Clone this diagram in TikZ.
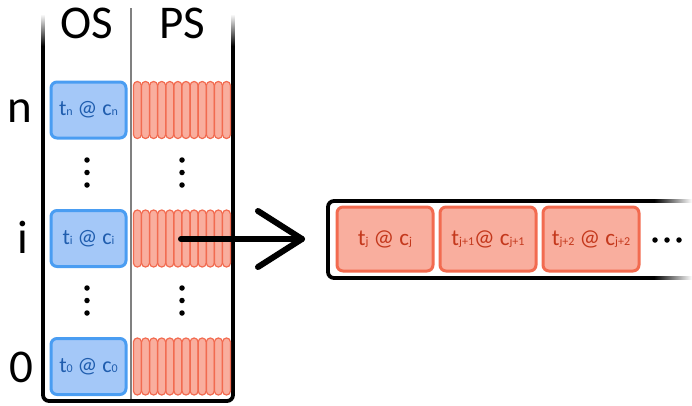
\documentclass[tikz,border=0pt]{standalone}
\usepackage{fontspec}
\setmainfont{Carlito}
\usetikzlibrary{calc}
\definecolor{osfill}{HTML}{A4C8F8}
\definecolor{osedge}{HTML}{4A9DF2}
\definecolor{ostext}{HTML}{1F5DAE}
\definecolor{psfill}{HTML}{F9AE9E}
\definecolor{psedge}{HTML}{F26B50}
\definecolor{pstext}{HTML}{C4381C}
\newcommand\lowidx[1]{{\fontsize{12}{13}\selectfont #1}}
\tikzset{
  frame/.style={line width=3.8pt, black, rounded corners=6pt},
  hdr/.style={font=\fontsize{47}{50}\selectfont, inner sep=0pt, anchor=base},
  osbox/.style={draw=osedge, fill=osfill, line width=3pt, rounded corners=6pt,
    minimum width=75pt, minimum height=56pt, inner sep=0pt, text=ostext,
    font=\fontsize{22}{24}\selectfont},
  psbox/.style={draw=psedge, fill=psfill, line width=3pt, rounded corners=6pt,
    minimum width=96pt, minimum height=64pt, inner sep=0pt, text=pstext,
    font=\fontsize{23}{25}\selectfont},
  stripe/.style={draw=psedge, fill=psfill, line width=1.2pt, rounded corners=3.8pt},
  vdot/.style={circle, fill=black, inner sep=0pt, minimum size=5.5pt},
  pointer/.style={line width=6pt, line cap=round, line join=round}
}
\begin{document}
\begin{tikzpicture}[x=1pt, y=-1pt]
\useasboundingbox (0,0) rectangle (692,405);

% table of states: outer frame, fading in at the top
\draw[frame] (43,45) -- (43,401) -- (233,401) -- (233,45);
\shade[top color=white, bottom color=black] (41.1,14) rectangle (44.9,46);
\shade[top color=white, bottom color=black] (231.1,14) rectangle (234.9,46);
\draw[gray, line width=1.8pt] (131,8) -- (131,399);

% column headers
\node[hdr] (os) at (87,38) {OS};
\node[hdr] (ps) at (182,38) {PS};

% row labels
\node[hdr] (rn) at (20,122) {n};
\node[hdr] (ri) at (23,253) {i};
\node[hdr] (r0) at (21,382) {0};

% OS cells
\node[osbox] (osn) at (88.5,110) {t\lowidx{n} @ c\lowidx{n}};
\node[osbox] (osi) at (88.5,238.5) {t\lowidx{i} @ c\lowidx{i}};
\node[osbox] (os0) at (88.5,366.5) {t\lowidx{0} @ c\lowidx{0}};

% PS cells: packed stripes
\foreach \yc in {110,238.5,366.5}{
  \foreach \k in {0,...,11}{
    \draw[stripe] ({133.5+\k*8.1},\yc-28.5) rectangle ++(7.8,57);
  }
}

% vertical ellipses
\foreach \xc/\nm in {87/a,182/b}{
  \node[vdot] (u\nm1) at (\xc,160) {};
  \node[vdot] (u\nm2) at (\xc,172.5) {};
  \node[vdot] (u\nm3) at (\xc,185) {};
  \node[vdot] (l\nm1) at (\xc,288) {};
  \node[vdot] (l\nm2) at (\xc,300.5) {};
  \node[vdot] (l\nm3) at (\xc,313) {};
}

% expanded PS buffer, fading out to the right
\draw[frame] (655,201) -- (328,201) -- (328,278) -- (655,278);
\shade[left color=black, right color=white] (654,199.1) rectangle (692,202.9);
\shade[left color=black, right color=white] (654,276.1) rectangle (692,279.9);
\coordinate (bufw) at (328,239);

\node[psbox] (pj)  at (385,239) {t\lowidx{j} @ c\lowidx{j}};
\node[psbox] (pj1) at (488,239) {t\lowidx{j+1}@ c\lowidx{j+1}};
\node[psbox] (pj2) at (591,239) {t\lowidx{j+2} @ c\lowidx{j+2}};

\node[vdot] (e1) at (655,240) {};
\node[vdot] (e2) at (667,240) {};
\node[vdot] (e3) at (679,240) {};

% pointer from the i-th PS cell to its contents
\coordinate (src) at (181,239);
\coordinate (tip) at ($(bufw)+(-26,0)$);
\draw[pointer] (src) -- (tip);
\draw[pointer] ($(tip)+(-44,-28)$) -- (tip) -- ($(tip)+(-44,28)$);
\end{tikzpicture}
\end{document}
